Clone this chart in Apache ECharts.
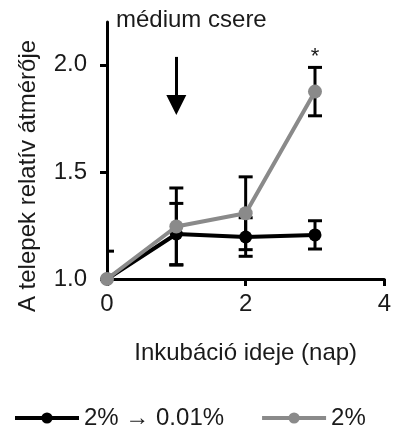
<!DOCTYPE html>
<html><head><meta charset="utf-8">
<script src="https://cdn.jsdelivr.net/npm/echarts@6/dist/echarts.min.js"></script>
<style>html,body{margin:0;padding:0;background:#fff}#c{width:394px;height:435px}</style>
</head><body><div id="c"></div>
<script>
const days = [0, 1, 2, 3];
const blackName = '2% \u2192 0.01%';
const grayName = '2%';
const blackMean = [1.0, 1.21, 1.196, 1.206];
const blackErr = [0.13, 0.143, 0.09, 0.066];
const grayMean = [1.0, 1.245, 1.307, 1.875];
const grayErr = [0, 0.18, 0.17, 0.113];
const yTicks = [1.0, 1.5, 2.0];
const xTicks = [0, 2, 4];
const FONT = 'Liberation Sans';
const FS = 24;
const TXT = '#1a1a1a';

const chart = echarts.init(document.getElementById('c'));
function errSeries(name, mean, err) {
  return {
    type: 'custom', name: name + '_err', z: 1, clip: true, silent: true,
    data: days.map((d, i) => [d, mean[i], err[i]]),
    renderItem: function (params, api) {
      const x = api.value(0), m = api.value(1), e = api.value(2);
      if (!e) return null;
      const top = api.coord([x, m + e]);
      const bot = api.coord([x, m - e]);
      const hw = 7;
      const st = { stroke: '#000', lineWidth: 3 };
      return { type: 'group', children: [
        { type: 'line', shape: { x1: top[0], y1: top[1], x2: bot[0], y2: bot[1] }, style: st },
        { type: 'line', shape: { x1: top[0] - hw, y1: top[1], x2: top[0] + hw, y2: top[1] }, style: st },
        { type: 'line', shape: { x1: bot[0] - hw, y1: bot[1], x2: bot[0] + hw, y2: bot[1] }, style: st }
      ]};
    }
  };
}
chart.setOption({
  animation: false,
  textStyle: { fontFamily: FONT },
  grid: { left: 107, right: 8, top: 22, bottom: 156, containLabel: false },
  graphic: [
    { type: 'text', left: 116, top: 8, style: { text: 'médium csere', fontSize: FS, fontFamily: FONT, fill: TXT } },
    { type: 'text', x: 28, y: 176, rotation: Math.PI / 2,
      style: { text: 'A telepek relatív átmérője', fontSize: FS, fontFamily: FONT, fill: TXT, align: 'center', verticalAlign: 'middle' } }
  ],
  legend: {
    left: 8, top: 401, itemWidth: 64, itemHeight: 14, itemGap: 36,
    lineStyle: { width: 4 },
    textStyle: { fontSize: FS, fontFamily: FONT, color: TXT },
    data: [blackName, grayName]
  },
  xAxis: {
    type: 'value', min: 0, max: 4, interval: 2,
    name: 'Inkubáció ideje (nap)', nameLocation: 'middle', nameGap: 62,
    nameTextStyle: { fontSize: FS, color: TXT, fontFamily: FONT },
    axisLine: { lineStyle: { color: '#000', width: 3 } },
    axisTick: { show: true, length: 7, lineStyle: { color: '#000', width: 3 }, customValues: xTicks },
    axisLabel: { fontSize: FS, color: TXT, margin: 13, customValues: xTicks },
    splitLine: { show: false }
  },
  yAxis: {
    type: 'value', min: 1.0, max: 2.2, interval: 0.5,
    axisLine: { show: true, lineStyle: { color: '#000', width: 3 } },
    axisTick: { show: true, length: 7, lineStyle: { color: '#000', width: 3 }, customValues: yTicks },
    axisLabel: { fontSize: FS, color: TXT, margin: 20, customValues: yTicks, formatter: v => v.toFixed(1) },
    splitLine: { show: false }
  },
  series: [
    errSeries('black', blackMean, blackErr),
    errSeries('gray', grayMean, grayErr),
    {
      type: 'line', name: blackName, z: 3,
      data: days.map((d, i) => [d, blackMean[i]]),
      symbol: 'circle', symbolSize: 13,
      lineStyle: { color: '#000', width: 4 }, itemStyle: { color: '#000' },
      markLine: {
        silent: true, symbol: ['none', 'triangle'], symbolSize: 20,
        lineStyle: { color: '#000', width: 3, type: 'solid' }, label: { show: false },
        data: [[{ coord: [1, 2.037] }, { coord: [1, 1.812] }]]
      }
    },
    {
      type: 'line', name: grayName, z: 4,
      data: days.map((d, i) => [d, grayMean[i]]),
      symbol: 'circle', symbolSize: 14,
      lineStyle: { color: '#8a8a8a', width: 4 }, itemStyle: { color: '#8a8a8a' },
      markPoint: {
        symbol: 'circle', symbolSize: 0,
        label: { show: true, formatter: '*', position: 'top', distance: 0, fontSize: 22, color: TXT },
        data: [{ coord: [3, 1.985] }]
      }
    }
  ]
});
</script></body></html>
